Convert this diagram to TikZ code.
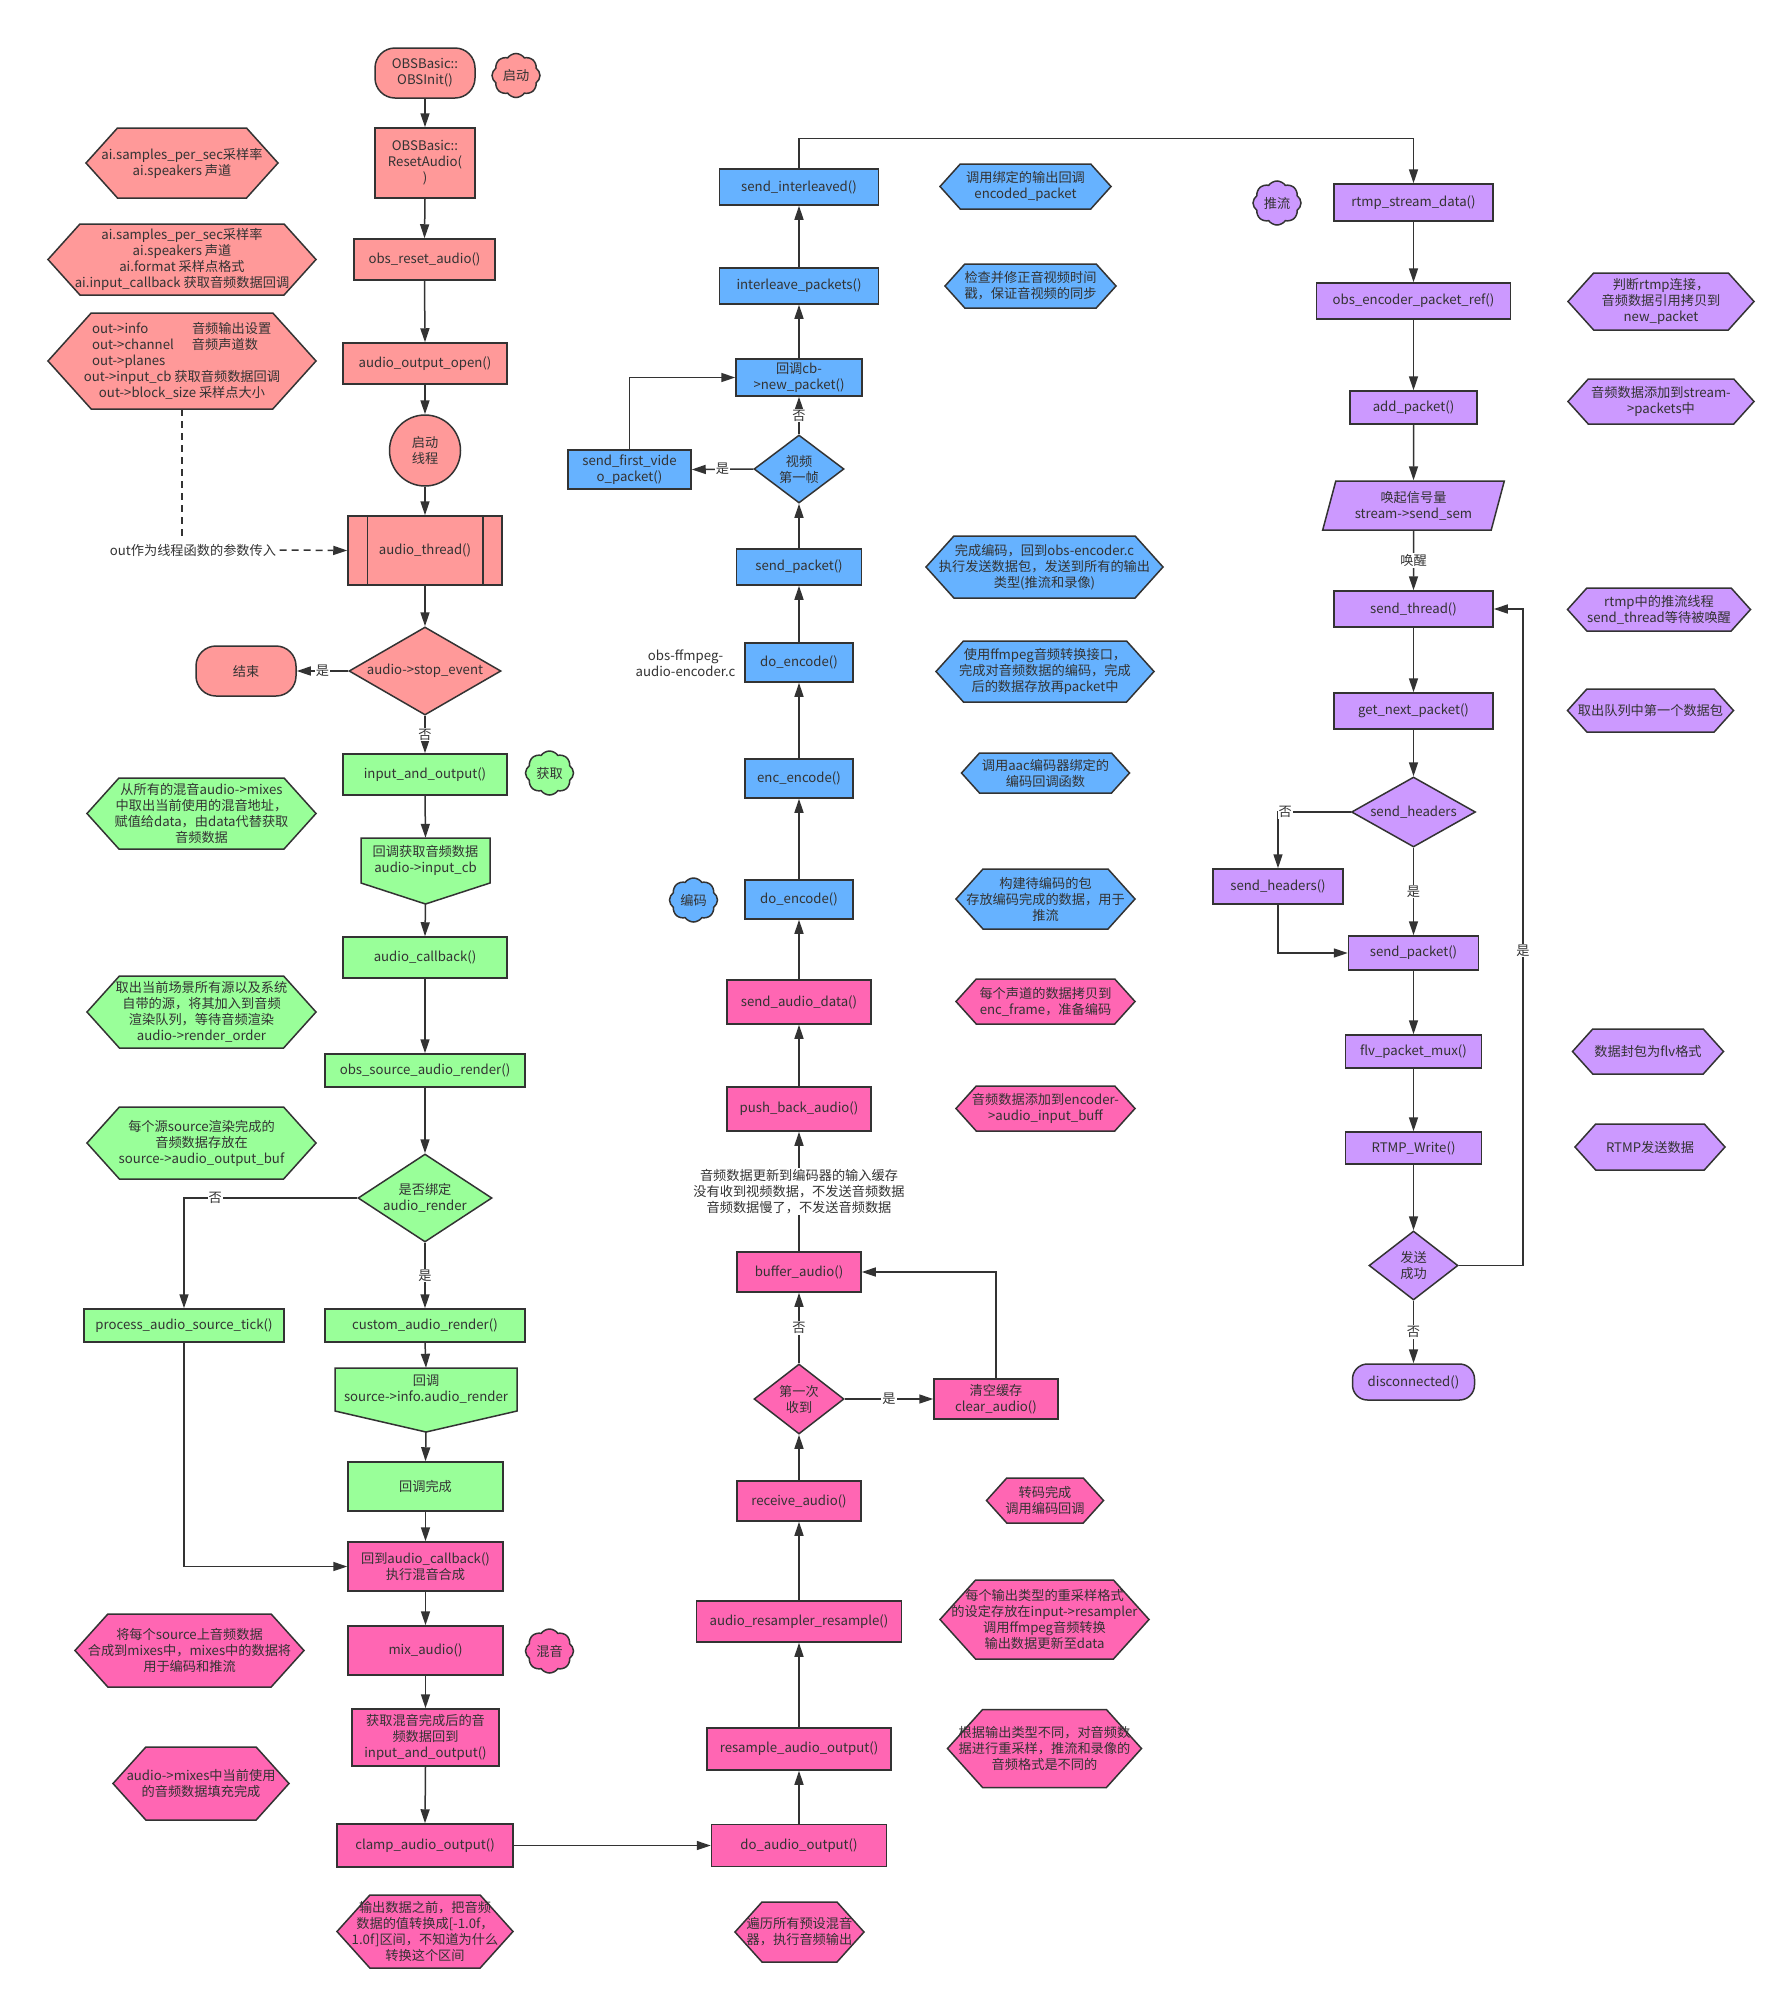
\documentclass[tikz,border=0pt]{standalone}
\usepackage{fontspec}
\setmainfont{Noto Sans CJK SC}
\usetikzlibrary{arrows.meta,shapes.geometric,shapes.symbols}

\definecolor{salmonC}{HTML}{FF9999}
\definecolor{greenC}{HTML}{99FF99}
\definecolor{pinkC}{HTML}{FF66B3}
\definecolor{blueC}{HTML}{66B2FF}
\definecolor{purpleC}{HTML}{CC99FF}
\definecolor{lineC}{HTML}{333333}

\begin{document}
\begin{tikzpicture}[x=1pt, y=-1pt, font=\fontsize{13.2}{16}\selectfont,
  flow/.style={draw=lineC, line width=1.5pt, text=lineC, align=center, inner sep=1pt},
  sz/.style 2 args={minimum width=#1pt, minimum height=#2pt},
  cond/.style={flow, diamond, inner sep=0pt},
  puff/.style={flow, cloud, cloud puffs=8, cloud puff arc=110, inner sep=0pt, minimum width=48pt, minimum height=44pt},
  noteline/.style={draw=lineC, line width=1.5pt},
  link/.style={draw=lineC, line width=1.5pt, -{Triangle[length=14pt,width=9pt]}},
  lbl/.style={fill=white, text=lineC, align=center, inner sep=1pt},
]
\fill[white] (0,0) rectangle (1785,1998);
\useasboundingbox (0,0) rectangle (1785,1998);

% hexagon notes beside the flow
\foreach \nm/\x/\y/\w/\h/\col/\txt in {
  aiA/182/163/192/70/salmonC/{ai.samples\_per\_sec采样率\\ai.speakers 声道},
  aiB/182/259.5/268/71/salmonC/{ai.samples\_per\_sec采样率\\ai.speakers 声道\\ai.format 采样点格式\\ai.input\_callback 获取音频数据回调},
  outA/182/361/268/96/salmonC/{\makebox[180pt][l]{\makebox[100pt][l]{out->info}音频输出设置}\\\makebox[180pt][l]{\makebox[100pt][l]{out->channel}音频声道数}\\\makebox[180pt][l]{out->planes}\\out->input\_cb 获取音频数据回调\\out->block\_size 采样点大小},
  gA/201.5/813.5/229/71/greenC/{从所有的混音audio->mixes\\中取出当前使用的混音地址，\\赋值给data，由data代替获取\\音频数据},
  gB/201.5/1012/229/72/greenC/{取出当前场景所有源以及系统\\自带的源，将其加入到音频\\渲染队列，等待音频渲染\\audio->render\_order},
  gC/201.5/1143/229/72/greenC/{每个源source渲染完成的\\音频数据存放在\\source->audio\_output\_buf},
  pA/189.5/1650.5/229/73/pinkC/{将每个source上音频数据\\合成到mixes中，mixes中的数据将\\用于编码和推流},
  pB/201/1783.5/176/73/pinkC/{audio->mixes中当前使用\\的音频数据填充完成},
  pC/425/1931.5/176/73/pinkC/{输出数据之前，把音频\\数据的值转换成[-1.0f，\\1.0f]区间，不知道为什么\\转换这个区间}}{
  \filldraw[noteline, fill=\col] ({\x-\w/2},\y) -- ({\x-\w/2+0.45*\h},{\y-\h/2}) -- ({\x+\w/2-0.45*\h},{\y-\h/2})
    -- ({\x+\w/2},\y) -- ({\x+\w/2-0.45*\h},{\y+\h/2}) -- ({\x-\w/2+0.45*\h},{\y+\h/2}) -- cycle;
  \node[text=lineC, align=center, inner sep=0pt, sz={\w}{\h}] (\nm) at (\x,\y) {\txt};
}
\foreach \nm/\x/\y/\w/\h/\col/\txt in {
  bA/1025.5/186.5/171/45/blueC/{调用绑定的输出回调\\encoded\_packet},
  bB/1030.5/286/171/44/blueC/{检查并修正音视频时间\\戳，保证音视频的同步},
  bC/1044.5/567/237/62/blueC/{完成编码，回到obs-encoder.c\\执行发送数据包，发送到所有的输出\\类型(推流和录像)},
  bD/1045/671.5/218/61/blueC/{使用ffmpeg音频转换接口，\\完成对音频数据的编码，完成\\后的数据存放再packet中},
  bE/1045.5/773/168/40/blueC/{调用aac编码器绑定的\\编码回调函数},
  bF/1045.5/899/179/60/blueC/{构建待编码的包\\存放编码完成的数据，用于\\推流},
  mA/1045.5/1001.5/179/45/pinkC/{每个声道的数据拷贝到\\enc\_frame，准备编码},
  mB/1045.5/1108.5/179/45/pinkC/{音频数据添加到encoder-\\>audio\_input\_buff},
  mC/1045/1500.5/117/45/pinkC/{转码完成\\调用编码回调},
  mD/1044.5/1619.5/209/79/pinkC/{每个输出类型的重采样格式\\的设定存放在input->resampler\\调用ffmpeg音频转换\\输出数据更新至data},
  mE/1044.5/1748.5/194/78/pinkC/{根据输出类型不同，对音频数\\据进行重采样，推流和录像的\\音频格式是不同的},
  mF/799.5/1932/129/60/pinkC/{遍历所有预设混音\\器，执行音频输出},
  rA/1661/301.5/186/57/purpleC/{判断rtmp连接，\\音频数据引用拷贝到\\new\_packet},
  rB/1661/401.5/186/45/purpleC/{音频数据添加到stream-\\>packets中},
  rC/1659/609.5/183/43/purpleC/{rtmp中的推流线程\\send\_thread等待被唤醒},
  rD/1650.5/710.5/166/43/purpleC/{取出队列中第一个数据包},
  rE/1648/1051.5/151/45/purpleC/{数据封包为flv格式},
  rF/1650/1147/150/46/purpleC/{RTMP发送数据}}{
  \filldraw[noteline, fill=\col] ({\x-\w/2},\y) -- ({\x-\w/2+0.45*\h},{\y-\h/2}) -- ({\x+\w/2-0.45*\h},{\y-\h/2})
    -- ({\x+\w/2},\y) -- ({\x+\w/2-0.45*\h},{\y+\h/2}) -- ({\x-\w/2+0.45*\h},{\y+\h/2}) -- cycle;
  \node[text=lineC, align=center, inner sep=0pt, sz={\w}{\h}] (\nm) at (\x,\y) {\txt};
}

% audio thread start-up
\node[flow, fill=salmonC, rounded corners=20pt, sz={100}{50}] (init) at (425,73) {OBSBasic::\\OBSInit()};
\node[puff, fill=salmonC] (startc) at (516,75.5) {启动};
\node[flow, fill=salmonC, sz={100}{70}] (reset) at (425,163) {OBSBasic::\\ResetAudio(\\)};
\node[flow, fill=salmonC, sz={141}{41}] (oreset) at (424.5,259.5) {obs\_reset\_audio()};
\node[flow, fill=salmonC, sz={164}{41}] (aopen) at (425,363.5) {audio\_output\_open()};
\node[flow, fill=salmonC, circle, minimum size=71pt, inner sep=0pt] (thstart) at (425,450.5) {启动\\线程};
\node[flow, fill=salmonC, sz={154}{69}] (athread) at (425,550.5) {audio\_thread()};
\draw[noteline] ([xshift=20pt]athread.north west) -- ([xshift=20pt]athread.south west);
\draw[noteline] ([xshift=-20pt]athread.north east) -- ([xshift=-20pt]athread.south east);
\node[cond, fill=salmonC, aspect=1.73, sz={152}{88}] (stopev) at (425,671) {audio->stop\_event};
\node[flow, fill=salmonC, rounded corners=20pt, sz={100}{50}] (fin) at (246,671) {结束};
\node[text=lineC] (outarg) at (193,550) {out作为线程函数的参数传入};

% gathering the sources
\node[flow, fill=greenC, sz={164}{41}] (io) at (425,774.5) {input\_and\_output()};
\node[puff, fill=greenC] (getc) at (549.5,773) {获取};
\filldraw[noteline, fill=greenC] (361,838) -- (490,838) -- (490,883) -- (425.5,904) -- (361,883) -- cycle;
\node[text=lineC, align=center, inner sep=0pt, sz={129}{45}] (cbA) at (425.5,860.5) {回调获取音频数据\\audio->input\_cb};
\coordinate (cbAtip) at (425.5,904);
\node[flow, fill=greenC, sz={164}{41}] (acb) at (425,957.5) {audio\_callback()};
\node[flow, fill=greenC, sz={200}{33}] (osar) at (425,1070.5) {obs\_source\_audio\_render()};
\node[cond, fill=greenC, aspect=1.52, sz={134}{88}] (bind) at (425,1198) {是否绑定\\audio\_render};
\node[flow, fill=greenC, sz={200}{33}] (tick) at (184,1325.5) {process\_audio\_source\_tick()};
\node[flow, fill=greenC, sz={200}{33}] (car) at (425,1325.5) {custom\_audio\_render()};
\filldraw[noteline, fill=greenC] (335,1368) -- (517,1368) -- (517,1411) -- (426,1432) -- (335,1411) -- cycle;
\node[text=lineC, align=center, inner sep=0pt, sz={182}{43}] (cbB) at (426,1389.5) {回调\\source->info.audio\_render};
\coordinate (cbBtip) at (426,1432);
\node[flow, fill=greenC, sz={155}{49}] (cbdone) at (425.5,1486.5) {回调完成};

% mixing
\node[flow, fill=pinkC, sz={155}{49}] (back) at (425.5,1566.5) {回到audio\_callback()\\执行混音合成};
\node[flow, fill=pinkC, sz={155}{49}] (mix) at (425.5,1650.5) {mix\_audio()};
\node[puff, fill=pinkC] (mixc) at (549.5,1651) {混音};
\node[flow, fill=pinkC, sz={147}{57}] (getmix) at (425.5,1737.5) {获取混音完成后的音\\频数据回到\\input\_and\_output()};
\node[flow, fill=pinkC, sz={176}{43}] (clamp) at (425,1845.5) {clamp\_audio\_output()};

% output and resampling
\node[flow, fill=pinkC, sz={175}{42}] (dao) at (799,1845.5) {do\_audio\_output()};
\node[flow, fill=pinkC, sz={184}{42}] (rao) at (799,1749) {resample\_audio\_output()};
\node[flow, fill=pinkC, sz={205}{41}] (arsr) at (799,1621.5) {audio\_resampler\_resample()};
\node[flow, fill=pinkC, sz={124}{40}] (recv) at (799,1501) {receive\_audio()};
\node[cond, fill=pinkC, aspect=1.3, sz={90}{70}] (first) at (799,1399) {第一次\\收到};
\node[flow, fill=pinkC, sz={124}{40}] (clear) at (996,1399) {清空缓存\\clear\_audio()};
\node[flow, fill=pinkC, sz={124}{40}] (buf) at (799,1272) {buffer\_audio()};
\node[flow, fill=pinkC, sz={144}{44}] (pba) at (799,1109) {push\_back\_audio()};
\node[flow, fill=pinkC, sz={144}{44}] (sad) at (799,1002) {send\_audio\_data()};

% encoding
\node[flow, fill=blueC, sz={108}{39}] (denc) at (799,899.5) {do\_encode()};
\node[puff, fill=blueC] (encc) at (693.5,900) {编码};
\node[flow, fill=blueC, sz={108}{39}] (eenc) at (799,778.5) {enc\_encode()};
\node[flow, fill=blueC, sz={108}{39}] (denc2) at (799,662.5) {do\_encode()};
\node[text=lineC, align=center] (ffsrc) at (685.5,663) {obs-ffmpeg-\\audio-encoder.c};
\node[flow, fill=blueC, sz={125}{36}] (spk) at (799,567) {send\_packet()};
\node[cond, fill=blueC, aspect=1.3, sz={90}{68}] (vfirst) at (799,469) {视频\\第一帧};
\node[flow, fill=blueC, sz={123}{39}] (sfv) at (629.5,469.5) {send\_first\_vide\\o\_packet()};
\node[flow, fill=blueC, sz={126}{37}] (np) at (799,377.5) {回调cb-\\>new\_packet()};
\node[flow, fill=blueC, sz={159}{36}] (ilp) at (799,286) {interleave\_packets()};
\node[flow, fill=blueC, sz={159}{36}] (sil) at (799,187) {send\_interleaved()};

% rtmp push
\node[flow, fill=purpleC, sz={159}{37}] (rsd) at (1413.5,202.5) {rtmp\_stream\_data()};
\node[puff, fill=purpleC] (pushc) at (1277,203) {推流};
\node[flow, fill=purpleC, sz={194}{36}] (oepr) at (1413.5,301) {obs\_encoder\_packet\_ref()};
\node[flow, fill=purpleC, sz={127}{33}] (addp) at (1413.5,407.5) {add\_packet()};
\node[flow, fill=purpleC, trapezium, trapezium left angle=72, trapezium right angle=108, trapezium stretches=true, sz={182}{49}] (sem) at (1413.5,505.5) {唤起信号量\\stream->send\_sem};
\node[flow, fill=purpleC, sz={159}{36}] (sthr) at (1413.5,609) {send\_thread()};
\node[flow, fill=purpleC, sz={159}{36}] (gnp) at (1413.5,711) {get\_next\_packet()};
\node[cond, fill=purpleC, aspect=1.77, sz={124}{70}] (shq) at (1413.5,812) {send\_headers};
\node[flow, fill=purpleC, sz={130}{35}] (shd) at (1278,886.5) {send\_headers()};
\node[flow, fill=purpleC, sz={130}{34}] (spk2) at (1413.5,953) {send\_packet()};
\node[flow, fill=purpleC, sz={136}{33}] (flv) at (1413.5,1051.5) {flv\_packet\_mux()};
\node[flow, fill=purpleC, sz={136}{32}] (rtw) at (1413.5,1148) {RTMP\_Write()};
\node[cond, fill=purpleC, aspect=1.3, sz={89}{69}] (okq) at (1413.5,1265.5) {发送\\成功};
\node[flow, fill=purpleC, rounded corners=15pt, sz={122}{36}] (disc) at (1413.5,1382) {disconnected()};
\coordinate (loopR) at (1523,609);

% connectors, left column
\draw[link] (init.south) -- (reset.north);
\draw[link] (reset.south) -- (oreset.north);
\draw[link] (oreset.south) -- (aopen.north);
\draw[link] (aopen.south) -- (thstart.north);
\draw[link] (thstart.south) -- (athread.north);
\draw[noteline, dash pattern=on 7pt off 5pt] (outA.south) -- (outA.south |- outarg.north);
\draw[link, dash pattern=on 7pt off 5pt] (outarg.east) -- (athread.west);
\draw[link] (athread.south) -- (stopev.north);
\draw[link] (stopev.west) -- node[lbl]{是} (fin.east);
\draw[link] (stopev.south) -- node[lbl]{否} (io.north);
\draw[link] (io.south) -- (cbA.north);
\draw[link] (cbAtip) -- (acb.north);
\draw[link] (acb.south) -- (osar.north);
\draw[link] (osar.south) -- (bind.north);
\draw[link] (bind.west) -| node[lbl, pos=0.41]{否} (tick.north);
\draw[link] (bind.south) -- node[lbl]{是} (car.north);
\draw[link] (car.south) -- (cbB.north);
\draw[link] (cbBtip) -- (cbdone.north);
\draw[link] (cbdone.south) -- (back.north);
\draw[link] (tick.south) |- (back.west);
\draw[link] (back.south) -- (mix.north);
\draw[link] (mix.south) -- (getmix.north);
\draw[link] (getmix.south) -- (clamp.north);
\draw[link] (clamp.east) -- (dao.west);

% connectors, middle column (upwards)
\draw[link] (dao.north) -- (rao.south);
\draw[link] (rao.north) -- (arsr.south);
\draw[link] (arsr.north) -- (recv.south);
\draw[link] (recv.north) -- (first.south);
\draw[link] (first.north) -- node[lbl]{否} (buf.south);
\draw[link] (first.east) -- node[lbl]{是} (clear.west);
\draw[link] (clear.north) |- (buf.east);
\draw[link] (buf.north) -- node[lbl]{音频数据更新到编码器的输入缓存\\没有收到视频数据，不发送音频数据\\音频数据慢了，不发送音频数据} (pba.south);
\draw[link] (pba.north) -- (sad.south);
\draw[link] (sad.north) -- (denc.south);
\draw[link] (denc.north) -- (eenc.south);
\draw[link] (eenc.north) -- (denc2.south);
\draw[link] (denc2.north) -- (spk.south);
\draw[link] (spk.north) -- (vfirst.south);
\draw[link] (vfirst.north) -- node[lbl]{否} (np.south);
\draw[link] (vfirst.west) -- node[lbl]{是} (sfv.east);
\draw[link] (sfv.north) |- (np.west);
\draw[link] (np.north) -- (ilp.south);
\draw[link] (ilp.north) -- (sil.south);
\draw[link] (sil.north) -- ++(0,-30) -| (rsd.north);

% connectors, right column
\draw[link] (rsd.south) -- (oepr.north);
\draw[link] (oepr.south) -- (addp.north);
\draw[link] (addp.south) -- (sem.north);
\draw[link] (sem.south) -- node[lbl]{唤醒} (sthr.north);
\draw[link] (sthr.south) -- (gnp.north);
\draw[link] (gnp.south) -- (shq.north);
\draw[link] (shq.west) -| node[lbl, pos=0.45]{否} (shd.north);
\draw[link] (shq.south) -- node[lbl]{是} (spk2.north);
\draw[link] (shd.south) |- (spk2.west);
\draw[link] (spk2.south) -- (flv.north);
\draw[link] (flv.south) -- (rtw.north);
\draw[link] (rtw.south) -- (okq.north);
\draw[link] (okq.south) -- node[lbl]{否} (disc.north);
\draw[link] (okq.east) -| node[lbl, pos=0.74]{是} (loopR) -- (sthr.east);
\end{tikzpicture}
\end{document}
